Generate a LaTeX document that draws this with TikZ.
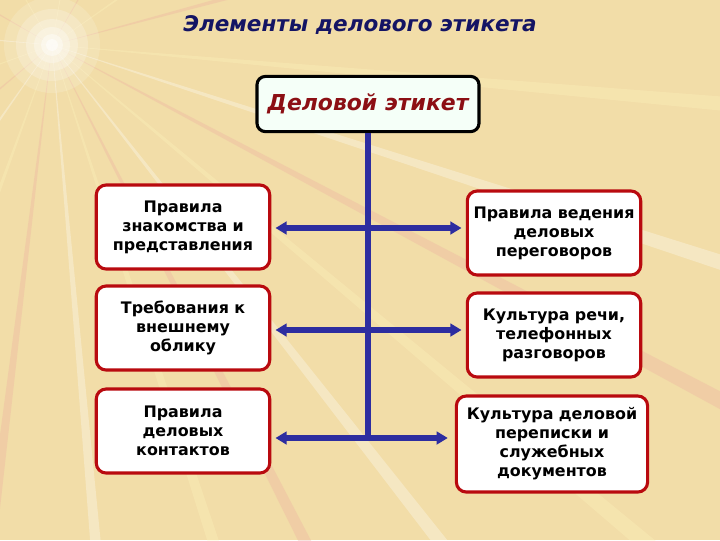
\documentclass[tikz,border=0pt]{standalone}
\usepackage{fontspec}
\setmainfont{DejaVu Sans}
\usetikzlibrary{arrows.meta,positioning}

\definecolor{bgcol}{RGB}{242,221,168}
\definecolor{raypink}{RGB}{236,170,160}
\definecolor{rayyel}{RGB}{255,246,190}
\definecolor{titlecol}{RGB}{20,20,100}
\definecolor{headcol}{RGB}{140,15,20}
\definecolor{framecol}{RGB}{185,10,15}
\definecolor{linkcol}{RGB}{45,45,160}

\tikzset{
  rulebox/.style={draw=framecol, line width=2.2pt, rounded corners=7pt,
    fill=white, align=center, text width=4.1cm,
    minimum width=4.33cm, minimum height=2.1cm,
    font=\fontsize{11.3}{13.5}\selectfont\bfseries},
  headbox/.style={draw=black, line width=2.2pt, rounded corners=6pt,
    fill={rgb,255:red,245;green,255;blue,248},
    minimum width=5.55cm, minimum height=1.38cm,
    text=headcol, font=\fontsize{15.6}{18}\selectfont\bfseries\itshape},
  stem/.style={linkcol, line width=3.6pt},
  dblarrow/.style={linkcol, line width=3.6pt,
    {Triangle[width=9pt,length=8pt]}-{Triangle[width=9pt,length=8pt]}}
}

\begin{document}
\begin{tikzpicture}[x=0.025cm,y=-0.025cm]
    % background with the sun in the corner
    \fill[bgcol] (0,0) rectangle (720,540);
    \useasboundingbox (0,0) rectangle (720,540);
    \begin{scope}
    \clip (0,0) rectangle (720,540);
    \foreach \a/\c in {-80/rayyel,-60/raypink,-35/rayyel,-15/raypink,
        5/rayyel,18/white,28/raypink,40/rayyel,52/white,63/raypink,
        72/rayyel,85/white,97/raypink,110/rayyel,125/white,140/raypink,
        160/rayyel,185/white,210/raypink,240/rayyel}
        \fill[\c, opacity=0.3] (52,45) -- ([shift={(\a-0.6:900)}]52,45)
            -- ([shift={(\a+0.6:900)}]52,45) -- cycle;
    \foreach \r/\o in {48/0.15,36/0.2,26/0.25,18/0.3,11/0.4,6/0.5}
        \fill[white, opacity=\o] (52,45) circle (\r);
    \end{scope}

    % title
    \node[text=titlecol, font=\fontsize{15.3}{18}\selectfont\bfseries\itshape]
        (title) at (360,25) {Элементы делового этикета};

    % boxes
    \node[headbox] (etiket) at (368,104) {Деловой этикет};
    \node[rulebox] (l1) at (183,227) {Правила\\знакомства и\\представления};
    \node[rulebox] (l2) at (183,328) {Требования к\\внешнему\\облику};
    \node[rulebox] (l3) at (183,431) {Правила\\деловых\\контактов};
    \node[rulebox] (r1) at (554,233) {Правила ведения\\деловых\\переговоров};
    \node[rulebox] (r2) at (554,335) {Культура речи,\\телефонных\\разговоров};
    \node[rulebox, minimum width=4.78cm, minimum height=2.4cm, text width=4.5cm]
        (r3) at (552,444) {Культура деловой\\переписки и\\служебных\\документов};

    % connectors
    \coordinate (a1) at (l1.east |- 0,228);
    \coordinate (a2) at (l2.east |- 0,330);
    \coordinate (a3) at (l3.east |- 0,438);
    \draw[stem] (etiket.south) -- (etiket.south |- a3);
    \draw[dblarrow, shorten <=3pt, shorten >=3pt] (a1) -- (a1 -| r1.west);
    \draw[dblarrow, shorten <=3pt, shorten >=3pt] (a2) -- (a2 -| r2.west);
    \draw[dblarrow, shorten <=3pt, shorten >=5pt] (a3) -- (a3 -| r3.west);
\end{tikzpicture}
\end{document}
